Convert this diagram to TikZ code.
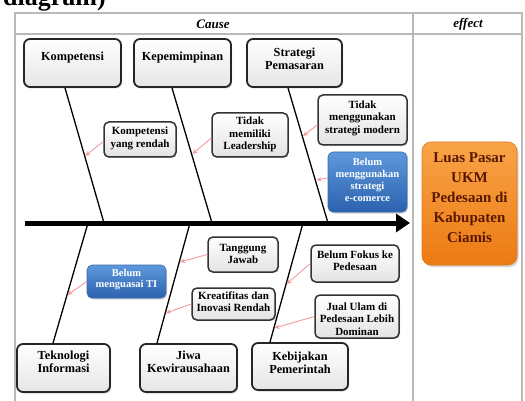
\documentclass[tikz,border=0pt]{standalone}
\usepackage{fontspec}
\setmainfont{Liberation Serif}
\usetikzlibrary{shadows,arrows.meta,calc}
\definecolor{bluetop}{HTML}{5E98DC}
\definecolor{bluebot}{HTML}{2C62AE}
\definecolor{blueedge}{HTML}{3A6AA8}
\definecolor{orgtop}{HTML}{F9A448}
\definecolor{orgbot}{HTML}{EC7A12}
\definecolor{orgedge}{HTML}{E07A18}
\definecolor{efftext}{HTML}{5A1800}
\definecolor{pinkarrow}{HTML}{F29A9A}
\begin{document}
\begin{tikzpicture}[x=1pt,y=-1pt,
  frameline/.style={draw=gray!55,line width=1.2pt},
  hdr/.style={font=\bfseries\itshape\fontsize{13}{14}\selectfont,inner sep=0pt},
  mainbox/.style={rectangle,rounded corners=6pt,draw=black!85,line width=1.8pt,
    top color=white,bottom color=gray!20,inner sep=0pt,
    drop shadow={shadow xshift=1.2pt,shadow yshift=-1.5pt,opacity=.35}},
  subbox/.style={rectangle,rounded corners=5pt,draw=black!80,line width=1.5pt,
    top color=white,bottom color=gray!22,inner sep=0pt,
    drop shadow={shadow xshift=1pt,shadow yshift=-1.2pt,opacity=.35}},
  bluebox/.style={rectangle,rounded corners=5pt,draw=blueedge,line width=.6pt,
    top color=bluetop,bottom color=bluebot,inner sep=0pt,
    drop shadow={shadow xshift=1pt,shadow yshift=-1.5pt,opacity=.35}},
  effbox/.style={rectangle,rounded corners=9pt,draw=orgedge,line width=.6pt,
    top color=orgtop,bottom color=orgbot,inner sep=0pt,
    drop shadow={shadow xshift=1.5pt,shadow yshift=-2pt,opacity=.35}},
  maintxt/.style={font=\bfseries\fontsize{12.3}{13}\selectfont,align=center,inner sep=0pt},
  subtxt/.style={font=\bfseries\fontsize{11}{12.5}\selectfont,align=center,inner sep=0pt},
  bluetxt/.style={font=\bfseries\fontsize{10.5}{11.8}\selectfont,align=center,inner sep=0pt,text=white},
  efftxt/.style={font=\bfseries\fontsize{15}{20}\selectfont,align=center,inner sep=0pt,text=efftext},
  bone/.style={draw=black,line width=1.3pt},
  spine/.style={draw=black,line width=5pt,-{Triangle[length=14pt,width=18pt]}},
  subarrow/.style={draw=pinkarrow,line width=.9pt,-{Stealth[length=5pt,width=4.5pt]}}
]
\useasboundingbox (0,0) rectangle (525,401);

% title fragment
\node[anchor=base west,inner sep=0pt,font=\bfseries\fontsize{26}{26}\selectfont] (ttl) at (3,6) {diagram)};

% table frame
\draw[frameline] (15,402) -- (15,13) -- (522,13) -- (522,402);
\draw[frameline] (15,34) -- (522,34);
\draw[frameline] (413,13) -- (413,402);
\node[hdr] (hcause) at (213,24) {Cause};
\node[hdr] (heffect) at (468,24) {effect};

% spine coordinates
\coordinate (sp0) at (25,223);
\coordinate (sp1) at (410,223);
\coordinate (j1) at (104,223);
\coordinate (j2) at (212,223);
\coordinate (j3) at (328,223);
\coordinate (j4) at (88,223);
\coordinate (j5) at (190,223);
\coordinate (j6) at (303,223);

% main cause boxes
\node[mainbox,minimum width=97,minimum height=48] (K1) at (72.5,63) {};
\node[maintxt] (K1t) at (72.5,58) {Kompetensi};
\node[mainbox,minimum width=97,minimum height=48] (K2) at (182.5,63) {};
\node[maintxt] (K2t) at (182.5,58) {Kepemimpinan};
\node[mainbox,minimum width=95,minimum height=48] (K3) at (294.5,63) {};
\node[maintxt] (K3t) at (294.5,58.5) {Strategi\\Pemasaran};

\node[mainbox,minimum width=93,minimum height=48] (B1) at (63.5,368) {};
\node[maintxt] (B1t) at (63.5,361.5) {Teknologi\\Informasi};
\node[mainbox,minimum width=97,minimum height=48] (B2) at (188.5,368) {};
\node[maintxt] (B2t) at (188.5,361.5) {Jiwa\\Kewirausahaan};
\node[mainbox,minimum width=96,minimum height=47] (B3) at (300,366.5) {};
\node[maintxt] (B3t) at (300,363) {Kebijakan\\Pemerintah};

% bones
\draw[bone] ([xshift=-7.5pt]K1.south) -- (j1);
\draw[bone] ([xshift=-10.5pt]K2.south) -- (j2);
\draw[bone] ([xshift=-6.5pt]K3.south) -- (j3);
\draw[bone] (j4) -- ([xshift=-10.5pt]B1.north);
\draw[bone] (j5) -- ([xshift=-31.5pt]B2.north);
\draw[bone] (j6) -- ([xshift=-30pt]B3.north);

% spine
\draw[spine] (sp0) -- (sp1);

% effect
\node[effbox,minimum width=95,minimum height=123] (E) at (469.5,203.5) {};
\node[efftxt] (Et) at (469.5,198) {Luas Pasar\\UKM\\Pedesaan di\\Kabupaten\\Ciamis};

% sub causes
\node[subbox,minimum width=72,minimum height=35] (S1) at (140,139.5) {};
\node[subtxt] (S1t) at (140,138.5) {Kompetensi\\yang rendah};
\node[subbox,minimum width=76,minimum height=44] (S2) at (250,135) {};
\node[subtxt] (S2t) at (250,134.5) {Tidak\\memiliki\\Leadership};
\node[subbox,minimum width=89,minimum height=50] (S3) at (362.5,120) {};
\node[subtxt] (S3t) at (362.5,118) {Tidak\\menggunakan\\strategi modern};
\node[bluebox,minimum width=79,minimum height=60] (S4) at (367.5,182) {};
\node[bluetxt] (S4t) at (367.5,180) {Belum\\menggunakan\\strategi\\e-comerce};

\node[subbox,minimum width=70,minimum height=35] (S5) at (243,254.5) {};
\node[subtxt] (S5t) at (243,254) {Tanggung\\Jawab};
\node[subbox,minimum width=83,minimum height=32] (S6) at (233.5,304) {};
\node[subtxt] (S6t) at (233.5,301.5) {Kreatifitas dan\\Inovasi Rendah};
\node[bluebox,minimum width=79,minimum height=33] (S7) at (126.5,281.5) {};
\node[bluetxt] (S7t) at (126.5,279.5) {Belum\\menguasai TI};
\node[subbox,minimum width=88,minimum height=37] (S8) at (355,263.5) {};
\node[subtxt] (S8t) at (355,260.5) {Belum Fokus ke\\Pedesaan};
\node[subbox,minimum width=84,minimum height=43] (S9) at (357,316.5) {};
\node[subtxt] (S9t) at (357,319) {Jual Ulam di\\Pedesaan Lebih\\Dominan};

% arrow targets on bones
\coordinate (t1) at (85,156);
\coordinate (t2) at (192.5,154);
\coordinate (t3) at (303,136);
\coordinate (t4) at (316.5,180);
\coordinate (t5) at (180,262);
\coordinate (t6) at (166,313);
\coordinate (t7) at (67.5,295);
\coordinate (t8) at (286.5,284);
\coordinate (t9) at (274.5,328);

\draw[subarrow] ([yshift=-2pt]S1.west) -- (t1);
\draw[subarrow] ([yshift=-3pt]S2.west) -- (t2);
\draw[subarrow] ([yshift=-5pt]S3.west) -- (t3);
\draw[subarrow] ([yshift=4pt]S4.west) -- (t4);
\draw[subarrow] (S5.west) -- (t5);
\draw[subarrow] (S6.west) -- (t6);
\draw[subarrow] (S7.west) -- (t7);
\draw[subarrow] (S8.west) -- (t8);
\draw[subarrow] (S9.west) -- (t9);
\end{tikzpicture}
\end{document}
